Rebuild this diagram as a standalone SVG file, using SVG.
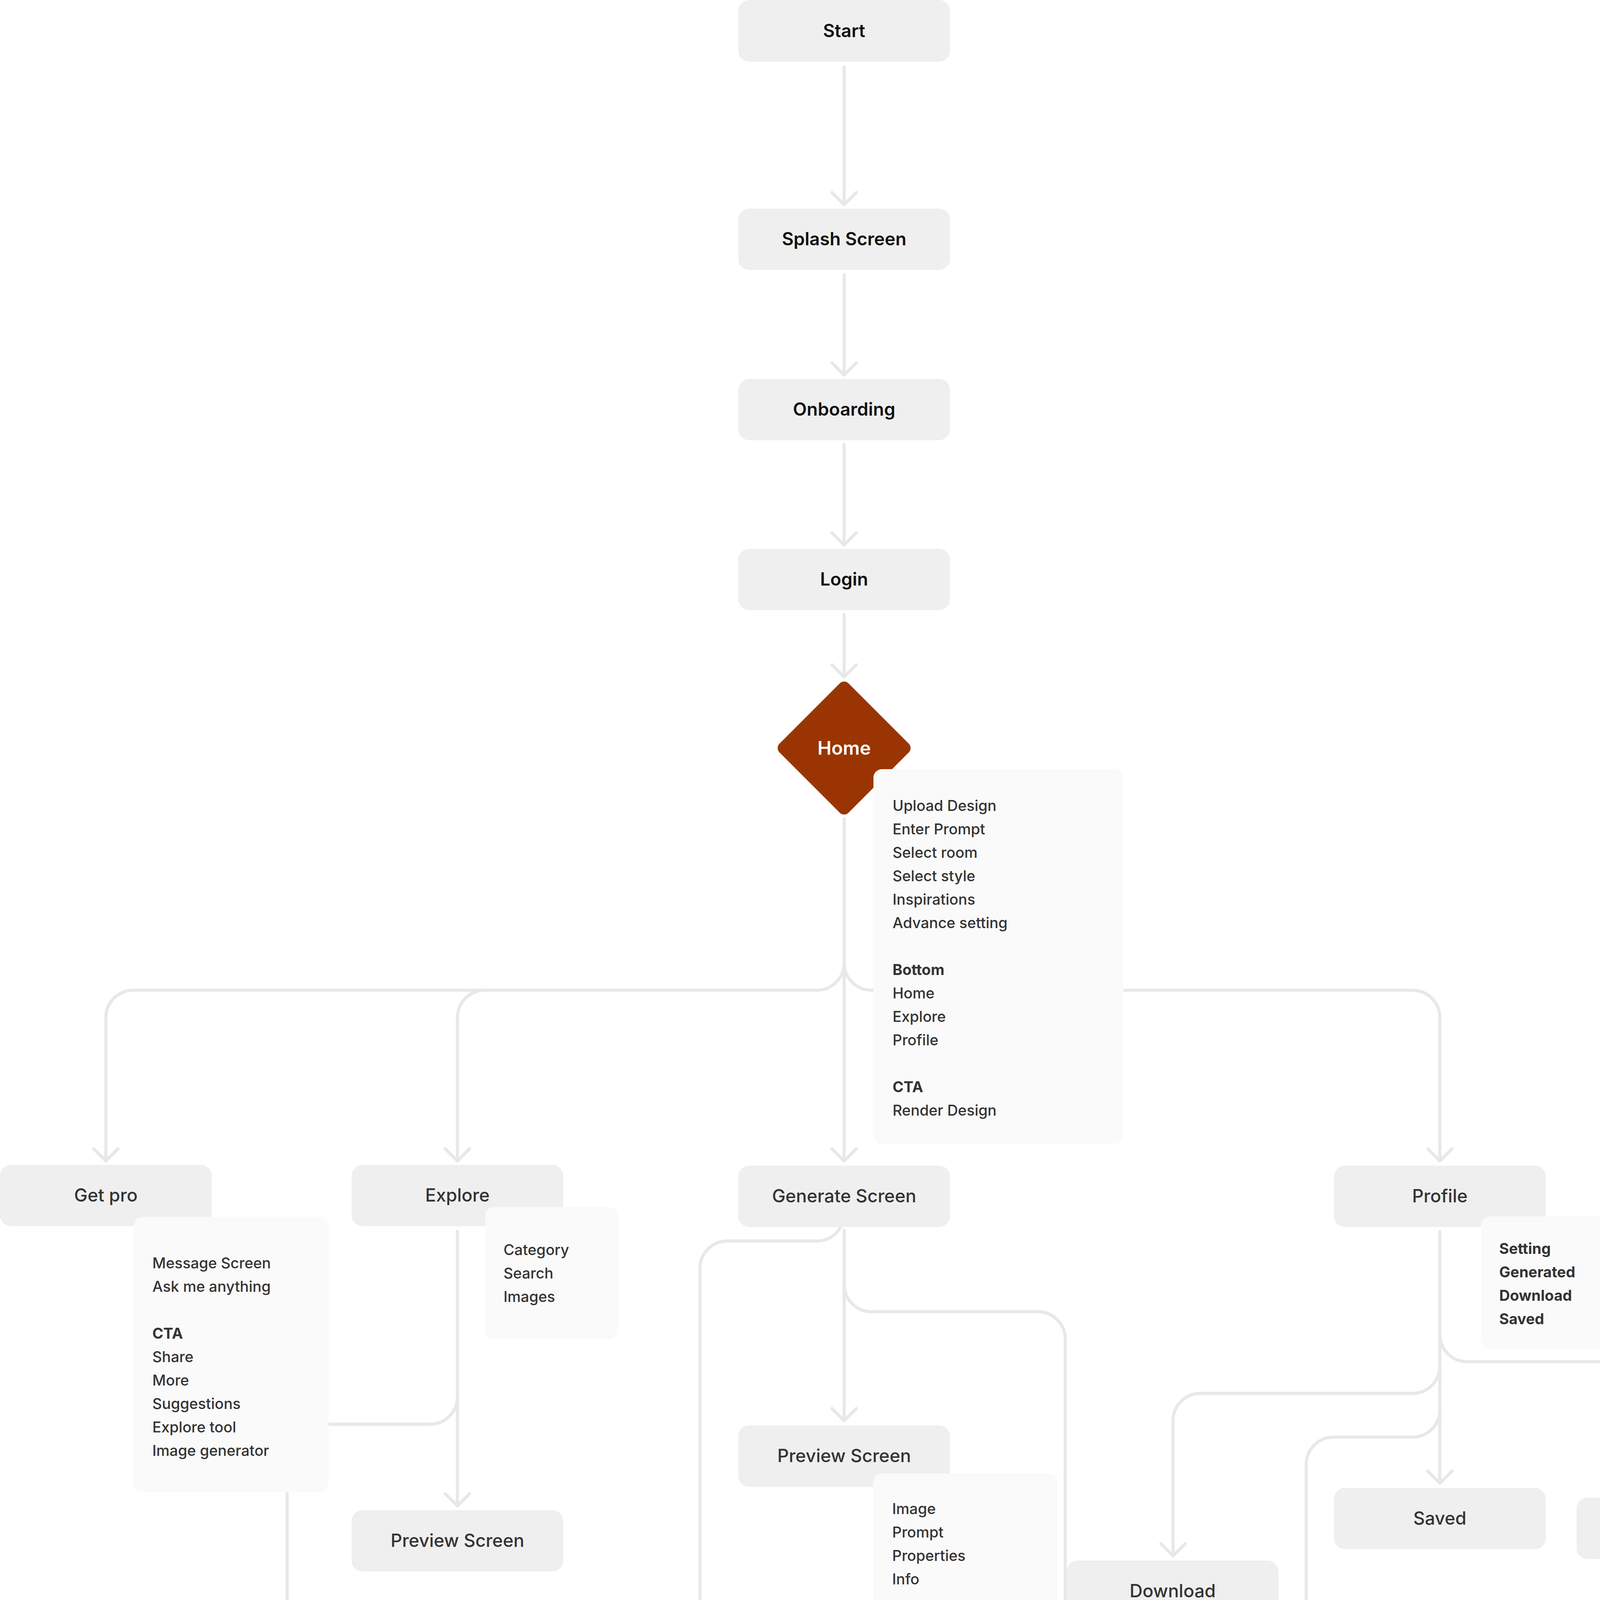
<svg xmlns="http://www.w3.org/2000/svg" width="4921" height="5336" viewBox="0 0 4921 5336">
<defs>
<marker id="arr" markerUnits="userSpaceOnUse" markerWidth="80" markerHeight="80" refX="0" refY="0" orient="auto" overflow="visible">
<path d="M -31 -31 L 0 0 L -31 31" fill="none" stroke="#E8E8E8" stroke-width="8" stroke-linecap="round" stroke-linejoin="round"/>
</marker>
</defs>
<style>
.c{fill:none;stroke:#E8E8E8;stroke-width:8;stroke-linecap:round;stroke-linejoin:round}
.a{marker-end:url(#arr)}
.b{fill:#EFEFEF}
.n{fill:#FAFAFA}
.l{font-family:Inter,"Noto Sans",sans-serif;font-size:46px;font-weight:500;fill:#333333;text-anchor:middle}
.lt{font-weight:600;fill:#111111}
.t{font-family:Inter,"Noto Sans",sans-serif;font-size:38px;font-weight:500;fill:#333333}
.tb{font-weight:700}
</style>
<rect width="4921" height="5336" fill="#FFFFFF"/>
<g id="connectors">
<path class="c a" d="M 2161 172 L 2161 524"/>
<path class="c a" d="M 2161 703 L 2161 960"/>
<path class="c a" d="M 2161 1138 L 2161 1395"/>
<path class="c a" d="M 2161 1574 L 2161 1733"/>
<path class="c a" d="M 2161 2096 L 2161 2972"/>
<path class="c a" d="M 2161 2465 A 70 70 0 0 1 2091 2535 L 341 2535 A 70 70 0 0 0 271 2605 L 271 2972"/>
<path class="c a" d="M 1241 2535 A 70 70 0 0 0 1171 2605 L 1171 2972"/>
<path class="c a" d="M 2161 2465 A 70 70 0 0 0 2231 2535 L 3616 2535 A 70 70 0 0 1 3686 2605 L 3686 2972"/>
<path class="c a" d="M 1171 3152 L 1171 3855"/>
<path class="c a" d="M 1171 3576 A 70 70 0 0 1 1101 3646 L 805 3646 A 70 70 0 0 0 735 3716 L 735 4145"/>
<path class="c a" d="M 2161 3150 L 2161 3637"/>
<path class="c a" d="M 2161 3107 A 70 70 0 0 1 2091 3177 L 1862 3177 A 70 70 0 0 0 1792 3247 L 1792 4257"/>
<path class="c a" d="M 2161 3288 A 70 70 0 0 0 2231 3358 L 2657 3358 A 70 70 0 0 1 2727 3428 L 2727 4621"/>
<path class="c a" d="M 3686 3153 L 3686 3797"/>
<path class="c a" d="M 3686 3416 A 70 70 0 0 0 3756 3486 L 4236 3486 A 70 70 0 0 1 4306 3556 L 4306 3822"/>
<path class="c a" d="M 3686 3497 A 70 70 0 0 1 3616 3567 L 3073 3567 A 70 70 0 0 0 3003 3637 L 3003 3983"/>
<path class="c a" d="M 3686 3609 A 70 70 0 0 1 3616 3679 L 3414 3679 A 70 70 0 0 0 3344 3749 L 3344 4203"/>
<path class="c" d="M 4306 4003 L 4306 4513 A 70 70 0 0 0 4376 4583 L 4441 4583"/>
<path class="c a" d="M 4306 4169 A 70 70 0 0 1 4236 4239 L 3725 4239 A 70 70 0 0 0 3655 4309 L 3655 4476"/>
<path class="c a" d="M 4306 4427 A 70 70 0 0 1 4236 4497 L 4049 4497 A 70 70 0 0 0 3979 4567 L 3979 4993"/>
<path class="c a" d="M 4650 4706 L 4650 5163"/>
</g>
<g id="start"><rect class="b" x="1890" y="0" width="542" height="158" rx="28"/><text class="l lt" x="2161" y="95">Start</text></g>
<g id="splash"><rect class="b" x="1890" y="534" width="542" height="157" rx="28"/><text class="l lt" x="2161" y="628">Splash Screen</text></g>
<g id="onboarding"><rect class="b" x="1890" y="970" width="542" height="157" rx="28"/><text class="l lt" x="2161" y="1064">Onboarding</text></g>
<g id="login"><rect class="b" x="1890" y="1405" width="542" height="157" rx="28"/><text class="l lt" x="2161" y="1499">Login</text></g>
<g id="home">
<rect x="2036" y="1790" width="250" height="250" rx="16" fill="#9A3503" transform="rotate(45 2161 1915)"/>
<text class="l" x="2161" y="1932" style="fill:#FFFFFF;font-weight:600;font-size:48px">Home</text>
</g>
<g id="home-notes">
<rect class="n" x="2236" y="1969" width="640" height="959" rx="22"/>
<text class="t" x="2285" y="2076">Upload Design</text>
<text class="t" x="2285" y="2136">Enter Prompt</text>
<text class="t" x="2285" y="2196">Select room</text>
<text class="t" x="2285" y="2256">Select style</text>
<text class="t" x="2285" y="2316">Inspirations</text>
<text class="t" x="2285" y="2376">Advance setting</text>
<text class="t tb" x="2285" y="2496">Bottom</text>
<text class="t" x="2285" y="2556">Home</text>
<text class="t" x="2285" y="2616">Explore</text>
<text class="t" x="2285" y="2676">Profile</text>
<text class="t tb" x="2285" y="2796">CTA</text>
<text class="t" x="2285" y="2856">Render Design</text>
</g>
<g id="getpro"><rect class="b" x="0" y="2982" width="542" height="157" rx="28"/><text class="l" x="271" y="3076">Get pro</text></g>
<g id="getpro-notes">
<rect class="n" x="342" y="3115" width="499" height="705" rx="22"/>
<text class="t" x="390" y="3247">Message Screen</text>
<text class="t" x="390" y="3307">Ask me anything</text>
<text class="t tb" x="390" y="3427">CTA</text>
<text class="t" x="390" y="3487">Share</text>
<text class="t" x="390" y="3547">More</text>
<text class="t" x="390" y="3607">Suggestions</text>
<text class="t" x="390" y="3667">Explore tool</text>
<text class="t" x="390" y="3727">Image generator</text>
</g>
<g id="explore"><rect class="b" x="900" y="2982" width="542" height="157" rx="28"/><text class="l" x="1171" y="3076">Explore</text></g>
<g id="explore-notes">
<rect class="n" x="1242" y="3090" width="340" height="338" rx="22"/>
<text class="t" x="1289" y="3213">Category</text>
<text class="t" x="1289" y="3273">Search</text>
<text class="t" x="1289" y="3333">Images</text>
</g>
<g id="generate"><rect class="b" x="1890" y="2984" width="542" height="157" rx="28"/><text class="l" x="2161" y="3078">Generate Screen</text></g>
<g id="profile"><rect class="b" x="3415" y="2984" width="542" height="157" rx="28"/><text class="l" x="3686" y="3078">Profile</text></g>
<g id="profile-notes">
<rect class="n" x="3792" y="3114" width="339" height="339" rx="22"/>
<text class="t tb" x="3838" y="3210">Setting</text>
<text class="t tb" x="3838" y="3270">Generated</text>
<text class="t tb" x="3838" y="3330">Download</text>
<text class="t tb" x="3838" y="3390">Saved</text>
</g>
<g id="preview-left"><rect class="b" x="900" y="3866" width="542" height="157" rx="28"/><text class="l" x="1171" y="3960">Preview Screen</text></g>
<g id="search"><rect class="b" x="466" y="4155" width="542" height="157" rx="28"/><text class="l" x="737" y="4249">Search Screen</text></g>
<g id="preview"><rect class="b" x="1890" y="3649" width="542" height="157" rx="28"/><text class="l" x="2161" y="3743">Preview Screen</text></g>
<g id="preview-notes">
<rect class="n" x="2235" y="3772" width="473" height="717" rx="22"/>
<text class="t" x="2284" y="3876">Image</text>
<text class="t" x="2284" y="3936">Prompt</text>
<text class="t" x="2284" y="3996">Properties</text>
<text class="t" x="2284" y="4056">Info</text>
<text class="t tb" x="2284" y="4176">CTA</text>
<text class="t" x="2284" y="4296">Share</text>
<text class="t" x="2284" y="4356">Try this prompt</text>
<text class="t" x="2284" y="4416">Download</text>
</g>
<g id="style"><rect class="b" x="1522" y="4270" width="542" height="157" rx="28"/><text class="l" x="1793" y="4364">Style Screen</text></g>
<g id="advance"><rect class="b" x="2457" y="4633" width="542" height="157" rx="28"/><text class="l" x="2728" y="4727">Advance setting</text></g>
<g id="saved"><rect class="b" x="3415" y="3809" width="542" height="157" rx="28"/><text class="l" x="3686" y="3903">Saved</text></g>
<g id="setting"><rect class="b" x="4036" y="3834" width="542" height="157" rx="28"/><text class="l" x="4307" y="3928">Setting</text></g>
<g id="setting-notes">
<rect class="n" x="4441" y="3921" width="419" height="784" rx="22"/>
<text class="t" x="4489" y="4087">Premium banner</text>
<text class="t" x="4489" y="4147">Feedback</text>
<text class="t" x="4489" y="4207">Share app</text>
<text class="t" x="4489" y="4267">Privacy policy</text>
<text class="t" x="4489" y="4327">Contact us</text>
<text class="t" x="4489" y="4387">Logout</text>
<text class="t tb" x="4489" y="4507">CTA</text>
<text class="t" x="4489" y="4567">Delete Account</text>
</g>
<g id="download"><rect class="b" x="2731" y="3995" width="542" height="157" rx="28"/><text class="l" x="3002" y="4089">Download</text></g>
<g id="generated"><rect class="b" x="3073" y="4215" width="542" height="157" rx="28"/><text class="l" x="3344" y="4309">Generated</text></g>
<g id="premium"><rect class="b" x="3384" y="4487" width="542" height="157" rx="28"/><text class="l" x="3655" y="4581">Premium Screen</text></g>
<g id="feedback"><rect class="b" x="3709" y="5005" width="542" height="157" rx="28"/><text class="l" x="3980" y="5099">Feedback</text></g>
<g id="logout"><rect class="b" x="4378" y="5176" width="542" height="157" rx="28"/><text class="l" x="4649" y="5270">Logout</text></g>
</svg>
